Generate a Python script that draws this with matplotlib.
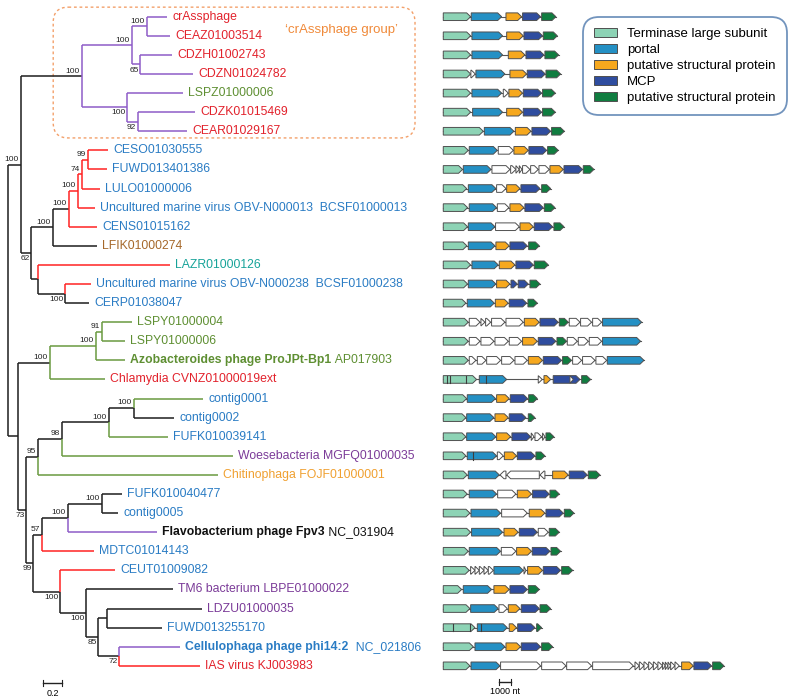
import matplotlib.pyplot as plt
from matplotlib.patches import Polygon, FancyBboxPatch, Patch

plt.rcParams['font.family'] = ['Liberation Sans', 'DejaVu Sans']

# text colours of the taxa
TXT = {'r': '#e2222c', 'b': '#2a7cc4', 'g': '#5e8f32', 'n': '#a5682a', 't': '#17a399',
       'p': '#7b3b98', 'o': '#f0a030', 'k': '#111111'}
# branch colours
BR = {'k': '#1e1e1e', 'p': '#8e5cc8', 'r': '#ff2323', 'g': '#6a9a40'}

leaf_names = ['crAssphage', 'CEAZ01003514', 'CDZH01002743', 'CDZN01024782', 'LSPZ01000006',
              'CDZK01015469', 'CEAR01029167', 'CESO01030555', 'FUWD013401386', 'LULO01000006',
              'Uncultured marine virus OBV-N000013  BCSF01000013', 'CENS01015162', 'LFIK01000274',
              'LAZR01000126', 'Uncultured marine virus OBV-N000238  BCSF01000238', 'CERP01038047',
              'LSPY01000004', 'LSPY01000006', 'Azobacteroides phage ProJPt-Bp1',
              'Chlamydia CVNZ01000019ext', 'contig0001', 'contig0002', 'FUFK010039141',
              'Woesebacteria MGFQ01000035', 'Chitinophaga FOJF01000001', 'FUFK010040477',
              'contig0005', 'Flavobacterium phage Fpv3', 'MDTC01014143', 'CEUT01009082',
              'TM6 bacterium LBPE01000022', 'LDZU01000035', 'FUWD013255170',
              'Cellulophaga phage phi14:2', 'IAS virus KJ003983']
accession = {18: ' AP017903', 27: ' NC_031904', 33: '  NC_021806'}
leaf_text_color = ['r', 'r', 'r', 'r', 'g', 'r', 'r', 'b', 'b', 'b', 'b', 'b', 'n', 't', 'b', 'b',
                   'g', 'g', 'g', 'r', 'b', 'b', 'b', 'p', 'o', 'b', 'b', 'k', 'b', 'b', 'p', 'p',
                   'b', 'b', 'r']
leaf_branch_color = ['p', 'p', 'p', 'p', 'p', 'p', 'p', 'r', 'r', 'r', 'r', 'r', 'k', 'r', 'r', 'k',
                     'g', 'g', 'g', 'g', 'g', 'k', 'g', 'g', 'g', 'k', 'k', 'p', 'r', 'r', 'k', 'k',
                     'k', 'p', 'r']
# distance from root of each tip
leaf_depth = [1.674, 1.705, 1.726, 1.947, 1.842, 1.968, 1.884, 1.053, 1.042, 0.968, 0.916, 0.937,
              0.937, 1.705, 0.874, 0.853, 1.305, 1.232, 1.232, 1.021, 2.053, 1.747, 1.684, 2.368,
              2.211, 1.200, 1.158, 1.568, 0.905, 1.126, 1.737, 2.042, 1.621, 1.811, 2.021]

# internal nodes: depth, children, bootstrap, label above/below, colour of incoming branch
tree = {
    'R': (0.000, ['A', 'K'], None, None, 'k'),
    'A': (0.137, ['CG', 'B'], '100', 'a', 'k'),
    'CG': (0.776, ['CG1', 'CG4'], '100', 'a', 'k'),
    'CG1': (1.302, ['CG2', 'CG3'], '100', 'a', 'p'),
    'CG2': (1.463, [0, 1], '100', 'a', 'p'),
    'CG3': (1.389, [2, 3], '65', 'b', 'p'),
    'CG4': (1.249, [4, 'CG5'], '100', 'b', 'p'),
    'CG5': (1.365, [5, 6], '92', 'b', 'p'),
    'B': (0.242, ['C', 'D'], '62', 'b', 'k'),
    'C': (0.474, ['E', 12], '100', 'a', 'k'),
    'E': (0.642, ['F', 11], '100', 'a', 'k'),
    'F': (0.737, ['G', 10], '100', 'a', 'r'),
    'G': (0.779, ['H', 9], '74', 'a', 'r'),
    'H': (0.842, [7, 8], '99', 'a', 'r'),
    'D': (0.316, [13, 'I'], None, None, 'k'),
    'I': (0.600, [14, 15], '100', 'b', 'k'),
    'K': (0.105, ['L', 'N'], None, None, 'k'),
    'L': (0.442, ['L1', 19], '100', 'a', 'k'),
    'L1': (0.926, ['L2', 18], '100', 'a', 'g'),
    'L2': (0.989, [16, 17], '91', 'a', 'g'),
    'N': (0.189, ['P', 'Q'], '73', 'b', 'k'),
    'P': (0.316, ['S', 24], '95', 'a', 'k'),
    'S': (0.568, ['S1', 23], '98', 'a', 'k'),
    'S1': (1.063, ['S2', 22], '100', 'a', 'k'),
    'S2': (1.326, [20, 21], '100', 'a', 'k'),
    'Q': (0.263, ['T', 'U'], '99', 'b', 'k'),
    'T': (0.358, ['V', 28], '57', 'a', 'k'),
    'V': (0.632, ['W', 27], '100', 'a', 'k'),
    'W': (0.989, [25, 26], '100', 'a', 'k'),
    'U': (0.547, [29, 'X'], '100', 'b', 'k'),
    'X': (0.821, [30, 'Y'], '100', 'b', 'k'),
    'Y': (0.947, ['Z', 'Z2'], '85', 'b', 'k'),
    'Z': (1.042, [31, 32], None, None, 'k'),
    'Z2': (1.168, [33, 34], '72', 'b', 'k'),
}

# gene maps (nt): kind, start, end
gene_colors = {'T': '#8dd3b5', 'P': '#2490c4', 'S': '#f6a81e', 'M': '#2f4d9f', 'G': '#107d40',
               'u': 'white', 'r': 'white'}
gene_labels = ['Terminase large subunit', 'portal', 'putative structural protein', 'MCP',
               'putative structural protein']
genes = [
    [('T', 0, 2340), ('P', 2390, 4990), ('S', 5360, 6700), ('M', 6780, 8320), ('G', 8410, 9630)],
    [('T', 0, 2340), ('P', 2450, 5070), ('S', 5420, 6840), ('M', 6900, 8490), ('G', 8550, 9750)],
    [('T', 0, 2340), ('P', 2450, 5070), ('S', 5560, 6980), ('M', 7070, 8610), ('G', 8690, 9860)],
    [('T', 0, 2340), ('u', 2360, 2740), ('P', 2790, 5270), ('S', 5700, 7130), ('M', 7180, 8720),
     ('G', 8780, 10030)],
    [('T', 0, 2340), ('P', 2450, 4990), ('u', 5130, 5560), ('S', 5610, 6780), ('M', 6840, 8410),
     ('G', 8490, 9580)],
    [('T', 0, 2340), ('P', 2510, 5070), ('S', 5420, 6780), ('M', 6840, 8410), ('G', 8490, 9580)],
    [('T', 0, 3420), ('P', 3510, 6040), ('S', 6160, 7500), ('M', 7580, 9180), ('G', 9260, 10350)],
    [('T', 0, 2140), ('P', 2220, 4620), ('u', 4700, 5990), ('S', 6040, 7270), ('M', 7320, 8840),
     ('G', 8920, 9830)],
    [('T', 0, 1650), ('P', 1710, 4080), ('u', 4160, 5700), ('u', 5760, 6210), ('u', 6210, 6500),
     ('u', 6500, 6730), ('u', 6780, 7410), ('u', 7470, 8120), ('u', 8180, 9060), ('S', 9120, 10260),
     ('M', 10320, 11910), ('G', 11970, 12880)],
    [('T', 0, 2000), ('P', 2140, 4500), ('u', 4560, 5360), ('S', 5420, 6560), ('M', 6640, 8270),
     ('G', 8410, 9180)],
    [('T', 0, 2080), ('P', 2220, 4560), ('u', 4620, 5610), ('S', 5700, 6900), ('M', 6980, 8550),
     ('G', 8640, 9550)],
    [('T', 0, 2080), ('P', 2140, 4420), ('u', 4470, 6500), ('S', 6560, 7700), ('M', 7780, 9350),
     ('G', 9460, 10320)],
    [('T', 0, 2020), ('P', 2140, 4420), ('S', 4500, 5640), ('M', 5700, 7180), ('G', 7300, 8210)],
    [('T', 0, 2340), ('P', 2450, 4700), ('S', 4790, 6130), ('M', 6210, 7700), ('G', 7780, 8980)],
    [('T', 0, 2080), ('P', 2140, 4500), ('S', 4560, 5700), ('M', 5790, 6330), ('M', 6410, 7270),
     ('G', 7410, 8270)],
    [('T', 0, 1940), ('P', 2050, 4360), ('S', 4450, 5560), ('M', 5640, 7130), ('G', 7240, 8040)],
    [('T', 0, 2140), ('u', 2220, 3140), ('u', 3220, 3560), ('u', 3620, 4050), ('u', 4130, 5270),
     ('u', 5360, 6840), ('S', 6930, 8210), ('M', 8270, 9830), ('G', 9920, 10690), ('u', 10770, 11690),
     ('u', 11740, 12680), ('u', 12770, 13540), ('P', 13620, 16960)],
    [('T', 0, 2140), ('u', 2220, 3140), ('u', 3220, 4330), ('u', 4420, 5560), ('u', 5640, 6700),
     ('S', 6780, 8040), ('M', 8120, 9630), ('G', 9720, 10550), ('u', 10600, 11460), ('u', 11540, 12400),
     ('u', 12480, 13540), ('P', 13620, 16870)],
    [('T', 0, 2140), ('u', 2220, 2790), ('u', 2910, 3650), ('u', 3710, 4900), ('u', 4990, 6040),
     ('u', 6130, 7180), ('S', 7270, 8490), ('M', 8550, 10120), ('G', 10200, 10970), ('u', 11060, 11830),
     ('u', 11910, 12970), ('u', 13050, 13970), ('P', 14020, 17160)],
    [('T', 0, 2850), ('P', 3080, 5420), ('u', 8120, 8460), ('S', 8610, 9180), ('M', 9400, 11690),
     ('u', 10830, 11120), ('G', 11830, 12600)],
    [('T', 0, 2000), ('P', 2050, 4470), ('S', 4560, 5640), ('M', 5730, 7210), ('G', 7300, 8040)],
    [('T', 0, 1940), ('P', 2000, 4330), ('S', 4420, 5560), ('M', 5640, 7070), ('G', 7270, 7840)],
    [('T', 0, 1940), ('P', 2000, 4500), ('S', 4560, 5760), ('M', 5870, 7470), ('u', 7520, 7750),
     ('u', 7840, 8410), ('u', 8490, 8690), ('G', 8780, 9460)],
    [('T', 0, 1940), ('P', 2050, 4560), ('u', 4620, 5130), ('S', 5220, 6270), ('M', 6330, 7840),
     ('G', 7920, 8690)],
    [('T', 0, 2050), ('P', 2140, 4790), ('r', 4850, 5360), ('r', 5420, 8210), ('r', 8270, 8690),
     ('S', 9350, 10690), ('M', 10770, 12310), ('G', 12400, 13400)],
    [('T', 0, 2050), ('P', 2220, 4560), ('u', 4650, 6210), ('S', 6330, 7550), ('M', 7640, 9060),
     ('G', 9120, 9920)],
    [('T', 0, 2280), ('P', 2370, 4900), ('u', 4990, 7180), ('S', 7350, 8690), ('M', 8780, 10260),
     ('G', 10350, 11170)],
    [('T', 0, 2340), ('P', 2420, 5070), ('S', 5190, 6410), ('M', 6500, 8040), ('u', 8120, 8980),
     ('G', 9060, 9920)],
    [('T', 0, 2140), ('P', 2220, 4900), ('u', 4960, 6210), ('S', 6270, 7550), ('M', 7610, 9120),
     ('G', 9210, 10030)],
    [('T', 0, 2220), ('u', 2340, 2710), ('u', 2710, 3080), ('u', 3080, 3480), ('u', 3480, 3850),
     ('u', 3850, 4280), ('P', 4330, 6840), ('u', 6900, 7070), ('S', 7210, 8490), ('M', 8550, 10030),
     ('G', 10120, 11060)],
    [('T', 0, 1570), ('P', 1710, 4130), ('S', 4330, 5640), ('M', 5700, 7180), ('G', 7270, 8210)],
    [('T', 0, 2280), ('P', 2340, 4700), ('u', 4760, 5470), ('S', 5560, 6560), ('M', 6670, 8210),
     ('G', 8270, 9180)],
    [('T', 0, 2710), ('P', 2910, 5470), ('S', 5640, 6270), ('M', 6360, 7840), ('G', 7980, 8410)],
    [('T', 0, 2570), ('P', 2710, 5270), ('S', 5360, 6610), ('M', 6670, 8320), ('G', 8410, 9350)],
    [('T', 0, 2280), ('P', 2370, 4850), ('u', 4900, 8320), ('u', 8410, 10490), ('u', 10550, 12680),
     ('u', 12770, 16250), ('u', 16390, 16760), ('u', 16760, 17160), ('u', 17160, 17560),
     ('u', 17560, 17960), ('u', 17960, 18350), ('u', 18350, 18750), ('u', 18750, 18980),
     ('u', 18980, 19210), ('u', 19210, 19440), ('u', 19440, 19810), ('u', 19810, 20180),
     ('S', 20380, 21380), ('M', 21430, 22940), ('G', 23030, 24000)],
]
# internal boundaries drawn inside fragmented genes
dividers = {19: [285, 570, 1940, 3650], 23: [2510], 32: [860, 2280, 3190]}

fig = plt.figure(figsize=(8, 7), dpi=100)
ax_t = fig.add_axes([0, 0, 0.5, 1])
ax_g = fig.add_axes([0.5, 0, 0.5, 1])
ax_t.set_xlim(-0.084, 4.126)
ax_g.set_xlim(-3700, 30500)
for ax in (ax_t, ax_g):
    ax.set_ylim(35.79, -0.875)
    ax.axis('off')

# ---- tree ----
ypos = {i: float(i) for i in range(len(leaf_names))}
xpos = {i: d for i, d in enumerate(leaf_depth)}
bcol = {i: c for i, c in enumerate(leaf_branch_color)}


def place(n):
    if n in ypos:
        return ypos[n]
    d, kids, _, _, c = tree[n]
    ys = [place(k) for k in kids]
    ypos[n] = (ys[0] + ys[-1]) / 2
    xpos[n] = d
    bcol[n] = c
    return ypos[n]


place('R')
lw = 1.1
for n, (d, kids, sup, side, _) in tree.items():
    y = ypos[n]
    for k in kids:
        c = BR[bcol[k]]
        ax_t.plot([d, d], [y, ypos[k]], color=c, lw=lw, solid_capstyle='butt')
        ax_t.plot([d, xpos[k]], [ypos[k], ypos[k]], color=c, lw=lw, solid_capstyle='butt')
    if sup:
        off = (-1.5, 1.2) if side == 'a' else (-1.0, -1.5)
        ax_t.annotate(sup, (d, y), xytext=off, textcoords='offset points', ha='right',
                      va='bottom' if side == 'a' else 'top', fontsize=6, color='#222222')

fs = 8.8
for i, name in enumerate(leaf_names):
    c = TXT[leaf_text_color[i]]
    x = leaf_depth[i] + 0.055
    if i in accession:
        t = ax_t.text(x, i, name, color=c, fontsize=fs, fontweight='bold', va='center')
        ax_t.annotate(accession[i], xy=(1, 0.5), xycoords=t, xytext=(0, 0),
                      textcoords='offset points', color=c, fontsize=fs, va='center')
    else:
        ax_t.text(x, i, name, color=c, fontsize=fs, va='center')

# crAssphage group box
x0 = tree['CG'][0] - 0.3
ph, pw = 700, 400
asp = (36.665 / ph) / (4.21 / pw)
box = FancyBboxPatch((x0, -0.5), 4.284 - x0, 6.85, boxstyle='round,pad=0,rounding_size=0.16',
                     mutation_aspect=asp, fill=False, ec='#f3a06a', lw=1.0,
                     ls=(0, (2, 2)), clip_on=False)
ax_t.add_patch(box)
ax_t.text(2.92, 0.72, '\u2018crAssphage group\u2019', color='#f08a3a', fontsize=9.5, va='center')

# tree scale bar
ax_t.plot([0.368, 0.568], [34.9, 34.9], color='#222222', lw=1)
for sx in (0.368, 0.568):
    ax_t.plot([sx, sx], [34.75, 35.05], color='#222222', lw=0.8)
ax_t.text(0.468, 35.45, '0.2', fontsize=6.5, ha='center', va='center')

# ---- gene maps ----
h = 0.2
tip = 340
for r, row in enumerate(genes):
    end = max(g[2] for g in row)
    ax_g.plot([0, end], [r, r], color='#555555', lw=0.8, zorder=1)
    for kind, s, e in row:
        t = min(tip, e - s)
        if kind == 'r':
            pts = [(e, r - h), (s + t, r - h), (s, r), (s + t, r + h), (e, r + h)]
        else:
            pts = [(s, r - h), (e - t, r - h), (e, r), (e - t, r + h), (s, r + h)]
        ax_g.add_patch(Polygon(pts, closed=True, fc=gene_colors[kind], ec='#4f4f4f',
                               lw=0.7, zorder=2))
    for dx in dividers.get(r, []):
        ax_g.plot([dx, dx], [r - h, r + h], color='#3d3d3d', lw=0.8, zorder=3)

# nt scale bar
ax_g.plot([4760, 5760], [34.85, 34.85], color='#222222', lw=1)
for sx in (4760, 5760):
    ax_g.plot([sx, sx], [34.7, 35.0], color='#222222', lw=0.8)
ax_g.text(5260, 35.35, '1000 nt', fontsize=6.5, ha='center', va='center')

handles = [Patch(fc=gene_colors[k], ec='#4f4f4f', lw=0.7) for k in 'TPSMG']
leg = ax_g.legend(handles, gene_labels, loc='upper left', bbox_to_anchor=(583 / 800, 1 - 17 / 700),
                  bbox_transform=fig.transFigure, fontsize=9.5, handlelength=1.7,
                  handleheight=0.6, handletextpad=0.8, labelspacing=0.3, borderpad=0.85,
                  borderaxespad=0, frameon=True)
frame = leg.get_frame()
frame.set_edgecolor('#4f79ad')
frame.set_linewidth(1.3)
frame.set_boxstyle('round,pad=0,rounding_size=1.2')

fig.savefig('out.png', dpi=100)
